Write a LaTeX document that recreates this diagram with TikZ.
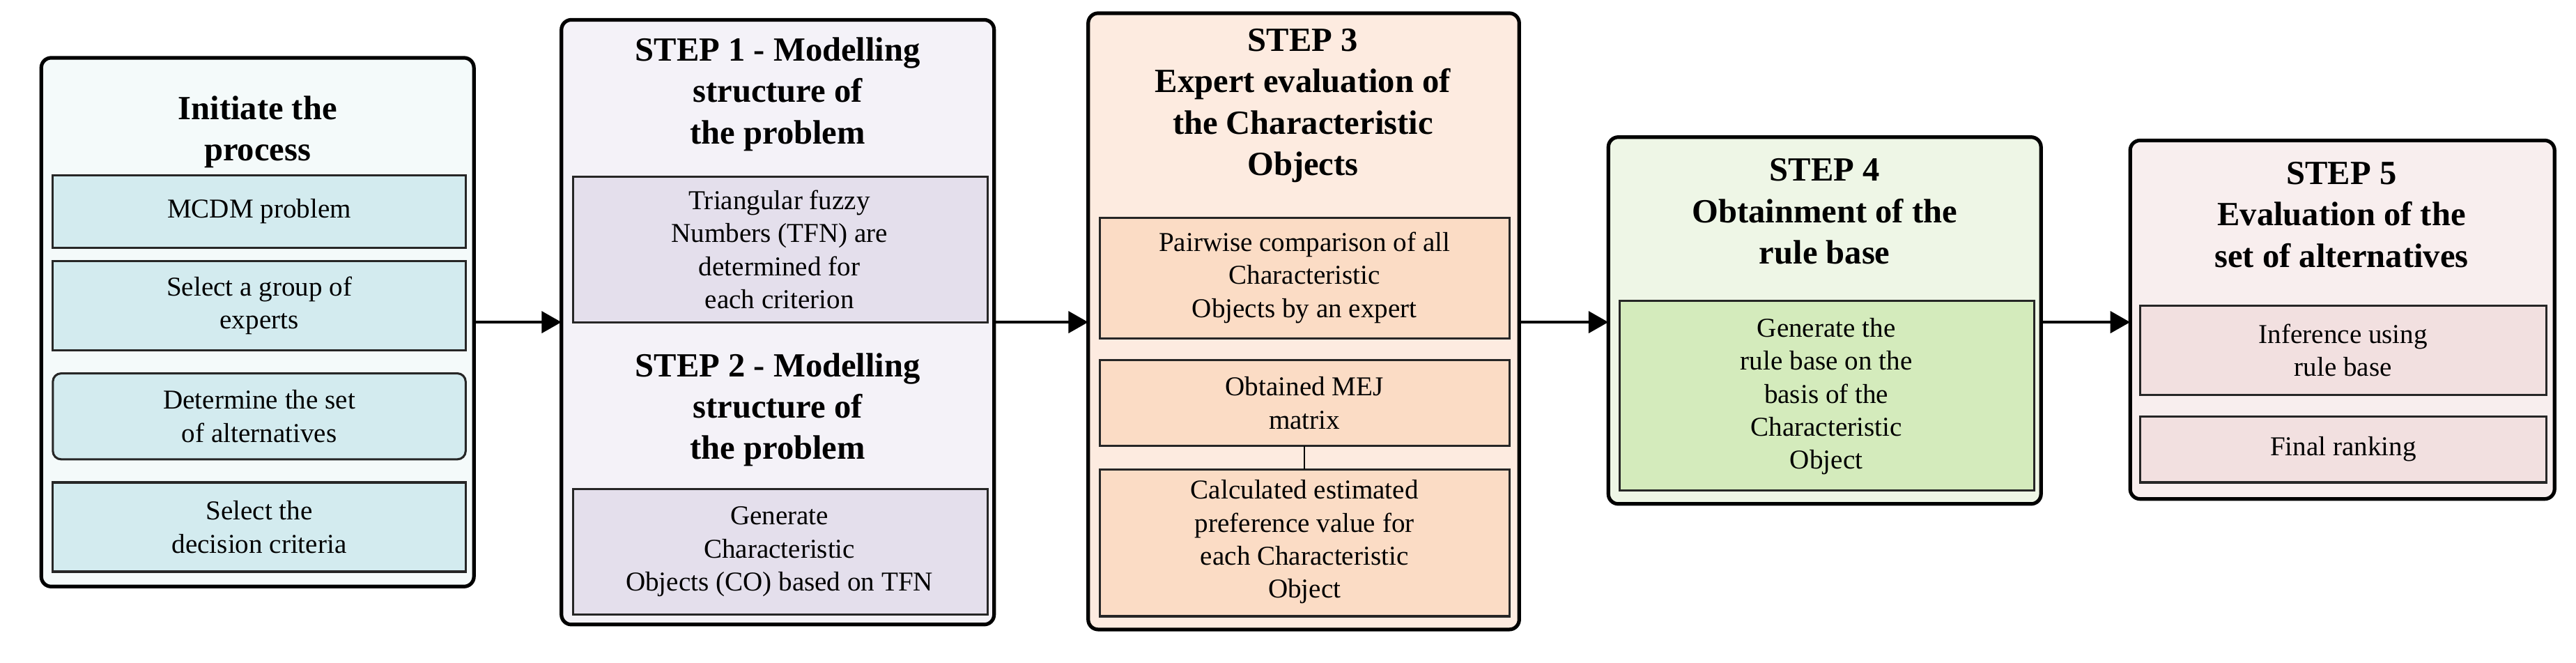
\documentclass[tikz,border=0pt]{standalone}
\usepackage{fontspec}
\setmainfont{Liberation Serif}
\usetikzlibrary{arrows.meta}
\definecolor{f0}{HTML}{F4FAFA}\definecolor{i0}{HTML}{D3EBEF}
\definecolor{f1}{HTML}{F4F2F8}\definecolor{i1}{HTML}{E4DFEC}
\definecolor{f2}{HTML}{FDEBE0}\definecolor{i2}{HTML}{FBDCC5}
\definecolor{f3}{HTML}{EEF6E6}\definecolor{i3}{HTML}{D4EBBC}
\definecolor{f4}{HTML}{F8EEEE}\definecolor{i4}{HTML}{F2E0E0}
\tikzset{
 outer/.style={draw=black,line width=2.2pt,rounded corners=6pt},
 inner/.style={draw=black!85,line width=1.3pt},
 body/.style={align=center,font=\fontsize{16.5}{20}\selectfont},
 ttl/.style={align=center,font=\bfseries\fontsize{20.5}{25}\selectfont},
 arr/.style={line width=2pt,-{Triangle[length=12pt,width=13pt]}}
}
\begin{document}
\begin{tikzpicture}[x=1pt,y=-1pt]
\useasboundingbox (0,0) rectangle (1560,401);
% box 0
\draw[outer,fill=f0] (25,35) rectangle (287,355);
\coordinate (b0) at (25,195); \coordinate (b0r) at (287,195);
\node[ttl] (t0) at (156,80) {Initiate the\\process};
\draw[inner,fill=i0] (32,106) rectangle (282,150); \node[body] (a1) at (157,128) {MCDM problem};
\draw[inner,fill=i0] (32,158) rectangle (282,212); \node[body] (a2) at (157,185) {Select a group of\\experts};
\draw[inner,fill=i0,rounded corners=5pt] (32,226) rectangle (282,278); \node[body] (a3) at (157,252) {Determine the set\\of alternatives};
\draw[inner,fill=i0] (32,292) rectangle (282,346); \node[body] (a4) at (157,319) {Select the\\decision criteria};
% box 1
\draw[outer,fill=f1] (340,12) rectangle (602,378);
\coordinate (b1l) at (340,195); \coordinate (b1r) at (602,195);
\node[ttl] (t1) at (471,57) {STEP 1 - Modelling\\structure of\\the problem};
\draw[inner,fill=i1] (347,107) rectangle (598,195); \node[body] (c1) at (472,151) {Triangular fuzzy\\Numbers (TFN) are\\determined for\\each criterion};
\node[ttl] (t2) at (471,248) {STEP 2 - Modelling\\structure of\\the problem};
\draw[inner,fill=i1] (347,296) rectangle (598,372); \node[body] (c2) at (472,334) {Generate\\Characteristic\\Objects (CO) based on TFN};
% box 2
\draw[outer,fill=f2] (659,8) rectangle (920,381);
\coordinate (b2l) at (659,195); \coordinate (b2r) at (920,195);
\node[ttl] (t3) at (789,64) {STEP 3\\Expert evaluation of\\the Characteristic\\Objects};
\draw[inner,fill=i2] (666,132) rectangle (914,205); \node[body] (d1) at (790,168) {Pairwise comparison of all\\Characteristic\\Objects by an expert};
\draw[inner,fill=i2] (666,218) rectangle (914,270); \node[body] (d2) at (790,244) {Obtained MEJ\\matrix};
\draw[inner,fill=i2] (666,284) rectangle (914,373); \node[body] (d3) at (790,328) {Calculated estimated\\preference value for\\each Characteristic\\Object};
\coordinate (m1) at (790,270); \coordinate (m2) at (790,284);
\draw[line width=1pt] (m1) -- (m2);
% box 3
\draw[outer,fill=f3] (974,83) rectangle (1236,305);
\coordinate (b3l) at (974,195); \coordinate (b3r) at (1236,195);
\node[ttl] (t4) at (1105,128) {STEP 4\\Obtainment of the\\rule base};
\draw[inner,fill=i3] (981,182) rectangle (1232,297); \node[body] (e1) at (1106,240) {Generate the\\rule base on the\\basis of the\\Characteristic\\Object};
% box 4
\draw[outer,fill=f4] (1290,85) rectangle (1547,302);
\coordinate (b4l) at (1290,195);
\node[ttl] (t5) at (1418,130) {STEP 5\\Evaluation of the\\set of alternatives};
\draw[inner,fill=i4] (1296,185) rectangle (1542,239); \node[body] (g1) at (1419,212) {Inference using\\rule base};
\draw[inner,fill=i4] (1296,252) rectangle (1542,292); \node[body] (g2) at (1419,272) {Final ranking};
% arrows
\draw[arr] (b0r) -- (b1l);
\draw[arr] (b1r) -- (b2l);
\draw[arr] (b2r) -- (b3l);
\draw[arr] (b3r) -- (b4l);
\end{tikzpicture}
\end{document}
